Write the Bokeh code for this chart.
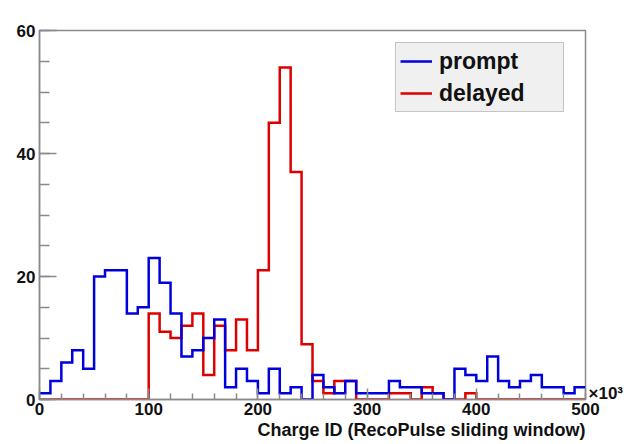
import numpy as np
from bokeh.plotting import figure
from bokeh.models import (Range1d, FixedTicker, Legend, LegendItem, Title, LinearAxis)
from bokeh.embed import file_html
from bokeh.resources import INLINE

# ---- data ----
bin_lo, bin_hi, n_bins = 0, 500, 50
prompt = [1, 3, 6, 8, 5, 20, 21, 21, 14, 15,
          23, 19, 14, 7, 8, 10, 13, 2, 5, 3,
          1, 5, 1, 2, 0, 4, 2, 1, 3, 1,
          1, 1, 3, 2, 2, 1, 1, 0, 5, 4,
          3, 7, 3, 2, 3, 4, 2, 2, 1, 2]
delayed = [0, 0, 0, 0, 0, 0, 0, 0, 0, 0,
           14, 11, 10, 12, 14, 4, 12, 8, 13, 8,
           21, 45, 54, 37, 9, 3, 1, 3, 3, 0,
           0, 0, 1, 1, 0, 2, 1, 0, 0, 1,
           0, 0, 0, 0, 0, 0, 0, 0, 0, 0]
x_ticks = [0, 100, 200, 300, 400, 500]
x_minor = list(range(0, 501, 20))
y_ticks = [0, 20, 40, 60]
y_minor = list(range(0, 61, 5))
x_title = "Charge ID (RecoPulse sliding window)"
x_multiplier = "\u00d710\u00b3"
series_names = ["prompt", "delayed"]

edges = np.linspace(bin_lo, bin_hi, n_bins + 1)

FONT = "Liberation Sans"
GRAY = "#8a8a8a"
TXT = "#111111"

p = figure(width=627, height=444, x_range=Range1d(0, 500), y_range=Range1d(0, 60),
           output_backend="svg", toolbar_location=None,
           min_border_left=39, min_border_right=42, min_border_top=30, min_border_bottom=45)
p.background_fill_color = "white"
p.border_fill_color = "white"
p.outline_line_color = GRAY
p.outline_line_width = 1.5
p.xgrid.visible = False
p.ygrid.visible = False

for ax in (p.xaxis[0], p.yaxis[0]):
    ax.axis_line_color = GRAY
    ax.axis_line_width = 1.5
    ax.major_tick_line_color = GRAY
    ax.minor_tick_line_color = GRAY
    ax.major_tick_line_width = 1.5
    ax.minor_tick_line_width = 1.5
    ax.major_tick_out = 0
    ax.minor_tick_out = 0
    ax.major_label_text_font = FONT
    ax.major_label_text_font_style = "bold"
    ax.major_label_text_font_size = "17px"
    ax.major_label_text_color = TXT

p.xaxis.ticker = FixedTicker(ticks=x_ticks, minor_ticks=x_minor)
p.yaxis.ticker = FixedTicker(ticks=y_ticks, minor_ticks=y_minor)
p.xaxis.major_tick_in = 11
p.xaxis.minor_tick_in = 6
p.yaxis.major_tick_in = 17
p.yaxis.minor_tick_in = 10
p.xaxis.major_label_standoff = 3
p.yaxis.major_label_standoff = 4

# multiplier "x10^3" as a label-only axis on the right, just above y = 0
rax = LinearAxis(ticker=FixedTicker(ticks=[1], minor_ticks=[]),
                 major_label_overrides={1: x_multiplier})
rax.axis_line_color = None
rax.major_tick_line_color = None
rax.minor_tick_line_color = None
rax.major_tick_in = 0
rax.major_tick_out = 0
rax.minor_tick_in = 0
rax.minor_tick_out = 0
rax.major_label_standoff = 3
rax.major_label_text_font = FONT
rax.major_label_text_font_style = "bold"
rax.major_label_text_font_size = "17px"
rax.major_label_text_color = TXT
p.add_layout(rax, "right")

xs = list(edges[:-1]) + [edges[-1]]
r_del = p.step(x=xs, y=delayed + [delayed[-1]], mode="after",
               line_color="#dd0000", line_width=2.5, line_join="miter")
r_pro = p.step(x=xs, y=prompt + [prompt[-1]], mode="after",
               line_color="#0000dd", line_width=2.5, line_join="miter")

legend = Legend(items=[LegendItem(label=series_names[0], renderers=[r_pro]),
                       LegendItem(label=series_names[1], renderers=[r_del])],
                location=(356, 287))
legend.background_fill_color = "#f0f0f0"
legend.background_fill_alpha = 1.0
legend.border_line_color = "#999999"
legend.border_line_width = 1.5
legend.label_text_font = FONT
legend.label_text_font_style = "bold"
legend.label_text_font_size = "23px"
legend.label_text_color = TXT
legend.glyph_width = 32
legend.glyph_height = 28
legend.label_height = 28
legend.label_width = 120
legend.label_standoff = 7
legend.spacing = 4
legend.padding = 4
legend.margin = 0
p.add_layout(legend, "center")

p.add_layout(Title(text=x_title, align="right", text_font=FONT,
                   text_font_style="bold", text_font_size="18px",
                   text_color=TXT, standoff=0, offset=0), "below")

open("out.html", "w").write(file_html(p, INLINE))
